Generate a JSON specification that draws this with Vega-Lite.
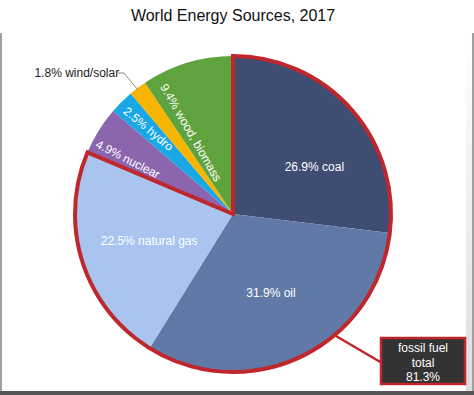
{
  "$schema": "https://vega.github.io/schema/vega-lite/v6.json",
  "width": 466,
  "height": 362,
  "autosize": {"type": "none"},
  "padding": {"left": 0, "top": 33, "right": 8, "bottom": 0},
  "background": "#ffffff",
  "title": {"text": "World Energy Sources, 2017", "fontSize": 16, "font": "Liberation Sans", "fontWeight": "normal", "color": "#111111", "anchor": "middle", "frame": "group", "offset": 8},
  "config": {
    "font": "Liberation Sans",
    "view": {"stroke": null, "fill": {"gradient": "linear", "x1": 0, "y1": 0, "x2": 0, "y2": 1, "stops": [{"offset": 0, "color": "#ffffff"}, {"offset": 1, "color": "#dddddd"}]}}
  },
  "data": {"values": [
    {"source": "coal", "label": "26.9% coal", "value": 26.9, "rank": 1},
    {"source": "oil", "label": "31.9% oil", "value": 31.9, "rank": 2},
    {"source": "natural gas", "label": "22.5% natural gas", "value": 22.5, "rank": 3},
    {"source": "nuclear", "label": "4.9% nuclear", "value": 4.9, "rank": 4},
    {"source": "hydro", "label": "2.5% hydro", "value": 2.5, "rank": 5},
    {"source": "wind/solar", "label": "1.8% wind/solar", "value": 1.8, "rank": 6},
    {"source": "wood, biomass", "label": "9.4% wood, biomass", "value": 9.4, "rank": 7}
  ]},
  "layer": [
    {
      "data": {"values": [{}]},
      "mark": {"type": "rect", "color": {"gradient": "linear", "x1": 0, "y1": 0, "x2": 0, "y2": 1, "stops": [{"offset": 0, "color": "#ffffff"}, {"offset": 1, "color": "#dddddd"}]}},
      "encoding": {
        "x": {"datum": 466, "type": "quantitative", "scale": {"domain": [0, 466], "nice": false, "zero": false}, "axis": null},
        "x2": {"datum": 474},
        "y": {"datum": 0, "type": "quantitative", "scale": {"domain": [0, 362], "nice": false, "zero": false, "reverse": true}, "axis": null},
        "y2": {"datum": 362}
      }
    },
    {
      "mark": {"type": "arc", "outerRadius": 158},
      "encoding": {
        "theta": {"field": "value", "type": "quantitative", "stack": true},
        "order": {"field": "rank", "type": "quantitative"},
        "color": {"field": "source", "type": "nominal", "legend": null,
          "scale": {"domain": ["coal", "oil", "natural gas", "nuclear", "hydro", "wind/solar", "wood, biomass"],
                    "range": ["#3e4d71", "#6179a6", "#a8c4ef", "#8b65ae", "#19a7e5", "#f8b500", "#5fa33e"]}}
      }
    },
    {
      "data": {"values": [{"group": "fossil", "value": 81.3, "rank": 1}, {"group": "other", "value": 18.6, "rank": 2}]},
      "mark": {"type": "arc", "outerRadius": 158, "fill": "#ffffff", "fillOpacity": 0, "stroke": "#c0272d", "strokeWidth": 4, "strokeJoin": "miter"},
      "encoding": {
        "theta": {"field": "value", "type": "quantitative", "stack": true},
        "order": {"field": "rank", "type": "quantitative"},
        "strokeOpacity": {"condition": {"test": "datum.group === 'fossil'", "value": 1}, "value": 0}
      }
    },
    {
      "mark": {"type": "text", "radius": 88, "fontSize": 12, "color": "#ffffff"},
      "encoding": {
        "theta": {"field": "value", "type": "quantitative", "stack": true},
        "order": {"field": "rank", "type": "quantitative"},
        "text": {"condition": {"test": "datum.source === 'oil' || datum.source === 'natural gas'", "field": "label"}, "value": ""}
      }
    },
    {
      "mark": {"type": "text", "radius": 94, "dx": 11, "dy": 15, "fontSize": 12, "color": "#ffffff"},
      "encoding": {
        "theta": {"field": "value", "type": "quantitative", "stack": true},
        "order": {"field": "rank", "type": "quantitative"},
        "text": {"condition": {"test": "datum.source === 'coal'", "field": "label"}, "value": ""}
      }
    },
    {
      "mark": {"type": "text", "radius": 119, "angle": 27, "dy": 9, "fontSize": 12, "color": "#ffffff"},
      "encoding": {
        "theta": {"field": "value", "type": "quantitative", "stack": true},
        "order": {"field": "rank", "type": "quantitative"},
        "text": {"condition": {"test": "datum.source === 'nuclear'", "field": "label"}, "value": ""}
      }
    },
    {
      "mark": {"type": "text", "radius": 120, "angle": 40, "fontSize": 12, "color": "#ffffff"},
      "encoding": {
        "theta": {"field": "value", "type": "quantitative", "stack": true},
        "order": {"field": "rank", "type": "quantitative"},
        "text": {"condition": {"test": "datum.source === 'hydro'", "field": "label"}, "value": ""}
      }
    },
    {
      "mark": {"type": "text", "radius": 94, "angle": 60, "dy": 17, "fontSize": 12, "color": "#ffffff"},
      "encoding": {
        "theta": {"field": "value", "type": "quantitative", "stack": true},
        "order": {"field": "rank", "type": "quantitative"},
        "text": {"condition": {"test": "datum.source === 'wood, biomass'", "field": "label"}, "value": ""}
      }
    },
    {
      "mark": {"type": "text", "radius": 182, "align": "right", "dx": -4, "dy": 4, "fontSize": 12, "color": "#1a1a1a"},
      "encoding": {
        "theta": {"field": "value", "type": "quantitative", "stack": true},
        "order": {"field": "rank", "type": "quantitative"},
        "text": {"condition": {"test": "datum.source === 'wind/solar'", "field": "label"}, "value": ""}
      }
    },
    {
      "data": {"values": [{}]},
      "mark": {"type": "rule", "color": "#8a8a8a", "strokeWidth": 1},
      "encoding": {
        "x": {"datum": 118, "type": "quantitative"},
        "x2": {"datum": 124},
        "y": {"datum": 40, "type": "quantitative"},
        "y2": {"datum": 40}
      }
    },
    {
      "data": {"values": [{}]},
      "mark": {"type": "rule", "color": "#8a8a8a", "strokeWidth": 1},
      "encoding": {
        "x": {"datum": 124, "type": "quantitative"},
        "x2": {"datum": 138},
        "y": {"datum": 40, "type": "quantitative"},
        "y2": {"datum": 57}
      }
    },
    {
      "data": {"values": [{}]},
      "mark": {"type": "rule", "color": "#c0272d", "strokeWidth": 2.5},
      "encoding": {
        "x": {"datum": 336, "type": "quantitative"},
        "x2": {"datum": 382},
        "y": {"datum": 303, "type": "quantitative"},
        "y2": {"datum": 330}
      }
    },
    {
      "data": {"values": [{}]},
      "mark": {"type": "rect", "fill": "#333333", "stroke": "#c0272d", "strokeWidth": 2.5},
      "encoding": {
        "x": {"datum": 381, "type": "quantitative"},
        "x2": {"datum": 465},
        "y": {"datum": 305, "type": "quantitative"},
        "y2": {"datum": 351}
      }
    },
    {
      "data": {"values": [{}]},
      "mark": {"type": "text", "fontSize": 12, "color": "#ffffff", "align": "center", "baseline": "middle", "lineBreak": "\n", "lineHeight": 14.5},
      "encoding": {
        "x": {"datum": 423, "type": "quantitative"},
        "y": {"datum": 315, "type": "quantitative"},
        "text": {"value": "fossil fuel\ntotal\n81.3%"}
      }
    },
    {
      "data": {"values": [{}]},
      "mark": {"type": "rule", "color": "#a0a0a0", "strokeWidth": 2},
      "encoding": {
        "x": {"datum": 1, "type": "quantitative"},
        "x2": {"datum": 1},
        "y": {"datum": 0, "type": "quantitative"},
        "y2": {"datum": 360}
      }
    },
    {
      "data": {"values": [{}]},
      "mark": {"type": "rule", "color": "#a0a0a0", "strokeWidth": 2},
      "encoding": {
        "x": {"datum": 473, "type": "quantitative"},
        "x2": {"datum": 473},
        "y": {"datum": 0, "type": "quantitative"},
        "y2": {"datum": 360}
      }
    },
    {
      "data": {"values": [{}]},
      "mark": {"type": "rule", "color": "#555555", "strokeWidth": 4},
      "encoding": {
        "x": {"datum": 0, "type": "quantitative"},
        "x2": {"datum": 474},
        "y": {"datum": 360, "type": "quantitative"},
        "y2": {"datum": 360}
      }
    }
  ]
}
